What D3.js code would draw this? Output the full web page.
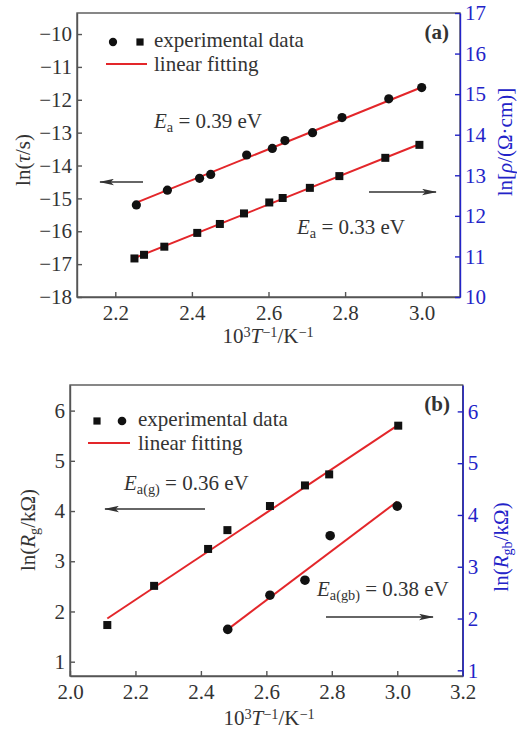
<!DOCTYPE html>
<html>
<head>
<meta charset="utf-8">
<script src="https://cdn.jsdelivr.net/npm/d3@7"></script>
<style>
  body { margin: 0; background: #fff; }
  svg { display: block; font-family: "Liberation Serif", "Times New Roman", serif; }
  .axis text { font-size: 21px; fill: #333; font-family: "Liberation Serif", serif; }
  .axis line, .axis path { stroke: #555; stroke-width: 1.4; }
  .axis.right text { fill: #2323c8; }
  .axis.right line, .axis.right path { stroke: #2323c8; }
  .lbl { font-size: 21px; fill: #333; }
</style>
</head>
<body>
<div id="chart"></div>
<script>
// ---- panel (a): relaxation time (circles, left axis) and resistivity (squares, right axis)
const tauX = [2.255, 2.336, 2.42, 2.449, 2.543, 2.61, 2.643, 2.715, 2.792, 2.914, 3.0];
const tauY = [-15.20, -14.75, -14.39, -14.27, -13.68, -13.48, -13.24, -13.00, -12.54, -11.97, -11.63];
const tauFit = [[2.255, -15.13], [3.0, -11.62]];

const rhoX = [2.25, 2.275, 2.328, 2.414, 2.473, 2.536, 2.602, 2.637, 2.708, 2.785, 2.905, 2.994];
const rhoY = [10.95, 11.04, 11.24, 11.58, 11.80, 12.06, 12.33, 12.44, 12.69, 12.98, 13.43, 13.75];
const rhoFit = [[2.25, 10.96], [2.995, 13.77]];

const ticksXa = [2.2, 2.4, 2.6, 2.8, 3.0];
const ticksLa = [-18, -17, -16, -15, -14, -13, -12, -11, -10];
const ticksRa = [10, 11, 12, 13, 14, 15, 16, 17];

// ---- panel (b): grain (squares, left axis) and grain boundary (circles, right axis)
const rgX = [2.114, 2.257, 2.422, 2.481, 2.611, 2.718, 2.792, 3.003];
const rgY = [1.73, 2.51, 3.245, 3.62, 4.10, 4.51, 4.73, 5.70];
const rgFit = [[2.114, 1.86], [3.0, 5.70]];

const rgbX = [2.482, 2.611, 2.718, 2.795, 3.0];
const rgbY = [1.79, 2.45, 2.74, 3.60, 4.17];
const rgbFit = [[2.482, 1.79], [3.0, 4.26]];

const ticksXb = [2.0, 2.2, 2.4, 2.6, 2.8, 3.0, 3.2];
const ticksLb = [1, 2, 3, 4, 5, 6];
const ticksRb = [1, 2, 3, 4, 5, 6];

const W = 517, H = 732;
const red = '#e3262a', blue = '#2323c8', mark = '#111';

const svg = d3.select('#chart').append('svg')
    .attr('width', W)
    .attr('height', H);

const defs = svg.append('defs');
defs.append('marker')
    .attr('id', 'arrow')
    .attr('viewBox', '0 0 14 6')
    .attr('refX', 13).attr('refY', 3)
    .attr('markerWidth', 15).attr('markerHeight', 7)
    .attr('markerUnits', 'userSpaceOnUse')
    .attr('orient', 'auto')
  .append('path')
    .attr('d', 'M0,0 L14,3 L0,6 L3,3 Z')
    .attr('fill', '#333');

// helper: writes rich text parts (italic / sub / sup) into a text element
function rich(text, parts) {
  parts.forEach(p => {
    const t = text.append('tspan').text(p.t);
    if (p.i) t.attr('font-style', 'italic');
    if (p.sup) t.attr('font-size', '0.68em').attr('baseline-shift', '45%');
    if (p.sub) t.attr('font-size', '0.68em').attr('baseline-shift', '-30%');
  });
  return text;
}

function drawPanel(cfg) {
  const g = svg.append('g');
  const x = d3.scaleLinear().domain(cfg.xDomain).range([cfg.left, cfg.right]);
  const yL = d3.scaleLinear().domain(cfg.yLDomain).range([cfg.bottom, cfg.top]);
  const yR = d3.scaleLinear().domain(cfg.yRDomain).range([cfg.bottom, cfg.top]);

  // frame
  g.append('rect')
      .attr('x', cfg.left).attr('y', cfg.top)
      .attr('width', cfg.right - cfg.left).attr('height', cfg.bottom - cfg.top)
      .attr('fill', 'none').attr('stroke', '#555').attr('stroke-width', 1.4);

  g.append('g').attr('class', 'axis')
      .attr('transform', `translate(0,${cfg.bottom})`)
      .call(d3.axisBottom(x).tickValues(cfg.xTicks).tickFormat(d3.format('.1f'))
        .tickSizeInner(-5).tickSizeOuter(0).tickPadding(8));

  g.append('g').attr('class', 'axis')
      .attr('transform', `translate(${cfg.left},0)`)
      .call(d3.axisLeft(yL).tickValues(cfg.yLTicks).tickFormat(d3.format('d'))
        .tickSizeInner(-5).tickSizeOuter(0).tickPadding(5));

  g.append('g').attr('class', 'axis right')
      .attr('transform', `translate(${cfg.right},0)`)
      .call(d3.axisRight(yR).tickValues(cfg.yRTicks).tickFormat(d3.format('d'))
        .tickSizeInner(-5).tickSizeOuter(0).tickPadding(5));

  // fit lines
  const line = d3.line();
  g.append('path')
      .attr('d', line(cfg.fitL.map(d => [x(d[0]), yL(d[1])])))
      .attr('stroke', red).attr('stroke-width', 2).attr('fill', 'none');
  g.append('path')
      .attr('d', line(cfg.fitR.map(d => [x(d[0]), yR(d[1])])))
      .attr('stroke', red).attr('stroke-width', 2).attr('fill', 'none');

  const drawMarks = (xs, ys, yScale, shape) => {
    const pts = xs.map((v, i) => [x(v), yScale(ys[i])]);
    if (shape === 'circle') {
      g.selectAll(null).data(pts).join('circle')
          .attr('cx', d => d[0]).attr('cy', d => d[1]).attr('r', cfg.r)
          .attr('fill', mark);
    } else {
      g.selectAll(null).data(pts).join('rect')
          .attr('x', d => d[0] - cfg.s / 2).attr('y', d => d[1] - cfg.s / 2)
          .attr('width', cfg.s).attr('height', cfg.s)
          .attr('fill', mark);
    }
  };
  drawMarks(cfg.xL, cfg.yLv, yL, cfg.shapeL);
  drawMarks(cfg.xR, cfg.yRv, yR, cfg.shapeR);

  // legend
  const lg = cfg.legend;
  cfg.legendShapes.forEach((shape, i) => {
    const cx = lg.x + i * lg.gap;
    if (shape === 'circle') {
      g.append('circle').attr('cx', cx).attr('cy', lg.y).attr('r', cfg.r * 0.9).attr('fill', mark);
    } else {
      g.append('rect').attr('x', cx - cfg.s * 0.45).attr('y', lg.y - cfg.s * 0.45)
          .attr('width', cfg.s * 0.9).attr('height', cfg.s * 0.9).attr('fill', mark);
    }
  });
  g.append('text').attr('class', 'lbl')
      .attr('x', lg.tx).attr('y', lg.y + 5).text('experimental data');
  g.append('line')
      .attr('x1', lg.lx1).attr('x2', lg.lx2).attr('y1', lg.y + lg.dy).attr('y2', lg.y + lg.dy)
      .attr('stroke', red).attr('stroke-width', 2);
  g.append('text').attr('class', 'lbl')
      .attr('x', lg.tx).attr('y', lg.y + lg.dy + 7).text('linear fitting');

  // panel tag
  g.append('text').attr('class', 'lbl')
      .attr('x', cfg.tag.x).attr('y', cfg.tag.y)
      .attr('text-anchor', 'end').attr('font-weight', 'bold').attr('font-size', 19)
      .text(cfg.tag.t);

  // activation energies and arrows
  cfg.notes.forEach(n => {
    rich(g.append('text').attr('class', 'lbl').attr('x', n.x).attr('y', n.y), n.parts);
  });
  cfg.arrows.forEach(a => {
    g.append('line')
        .attr('x1', a[0]).attr('y1', a[1]).attr('x2', a[2]).attr('y2', a[1])
        .attr('stroke', '#333').attr('stroke-width', 1.6)
        .attr('marker-end', 'url(#arrow)');
  });

  // axis titles
  rich(g.append('text').attr('class', 'lbl').attr('text-anchor', 'middle')
      .attr('x', cfg.xTitleX).attr('y', cfg.xTitleY),
    [{t: '10'}, {t: '3', sup: true}, {t: 'T', i: true}, {t: '−1', sup: true}, {t: '/K'}, {t: '−1', sup: true}]);

  rich(g.append('text').attr('class', 'lbl').attr('text-anchor', 'middle')
      .attr('transform', `translate(${cfg.yLTitle[0]},${cfg.yLTitle[1]}) rotate(-90)`), cfg.yLParts);

  rich(g.append('text').attr('class', 'lbl').attr('text-anchor', 'middle')
      .attr('transform', `translate(${cfg.yRTitle[0]},${cfg.yRTitle[1]}) rotate(-90)`), cfg.yRParts)
      .style('fill', blue);
}

drawPanel({
  left: 77, right: 460, top: 13, bottom: 297,
  xDomain: [2.1, 3.1], yLDomain: [-18, -9.36], yRDomain: [10, 17],
  xTicks: ticksXa, yLTicks: ticksLa, yRTicks: ticksRa,
  xL: tauX, yLv: tauY, fitL: tauFit, shapeL: 'circle',
  xR: rhoX, yRv: rhoY, fitR: rhoFit, shapeR: 'square',
  r: 4.6, s: 8,
  legend: {x: 113, y: 42, gap: 27, tx: 154, lx1: 106, lx2: 147, dy: 22},
  legendShapes: ['circle', 'square'],
  tag: {t: '(a)', x: 449, y: 39},
  notes: [
    {x: 154, y: 128, parts: [{t: 'E', i: true}, {t: 'a', sub: true}, {t: ' = 0.39 eV'}]},
    {x: 297, y: 234, parts: [{t: 'E', i: true}, {t: 'a', sub: true}, {t: ' = 0.33 eV'}]}
  ],
  arrows: [[143, 182, 100], [369, 192, 436]],
  xTitleX: 268, xTitleY: 343,
  yLTitle: [30, 160], yLParts: [{t: 'ln('}, {t: 'τ', i: true}, {t: '/s)'}],
  yRTitle: [512, 142], yRParts: [{t: 'ln['}, {t: 'ρ', i: true}, {t: '/(Ω·cm)]'}]
});

drawPanel({
  left: 70, right: 462.7, top: 385, bottom: 676,
  xDomain: [2.0, 3.2], yLDomain: [0.715, 6.51], yRDomain: [0.89, 6.51],
  xTicks: ticksXb, yLTicks: ticksLb, yRTicks: ticksRb,
  xL: rgX, yLv: rgY, fitL: rgFit, shapeL: 'square',
  xR: rgbX, yRv: rgbY, fitR: rgbFit, shapeR: 'circle',
  r: 4.8, s: 8,
  legend: {x: 97, y: 421, gap: 25, tx: 138, lx1: 88, lx2: 130, dy: 22},
  legendShapes: ['square', 'circle'],
  tag: {t: '(b)', x: 450, y: 411},
  notes: [
    {x: 124, y: 490, parts: [{t: 'E', i: true}, {t: 'a(g)', sub: true}, {t: ' = 0.36 eV'}]},
    {x: 317, y: 596, parts: [{t: 'E', i: true}, {t: 'a(gb)', sub: true}, {t: ' = 0.38 eV'}]}
  ],
  arrows: [[205, 509, 105], [326, 617, 433]],
  xTitleX: 269, xTitleY: 725,
  yLTitle: [35, 530], yLParts: [{t: 'ln('}, {t: 'R', i: true}, {t: 'g', sub: true}, {t: '/kΩ)'}],
  yRTitle: [508, 547], yRParts: [{t: 'ln('}, {t: 'R', i: true}, {t: 'gb', sub: true}, {t: '/kΩ)'}]
});
</script>
</body>
</html>
